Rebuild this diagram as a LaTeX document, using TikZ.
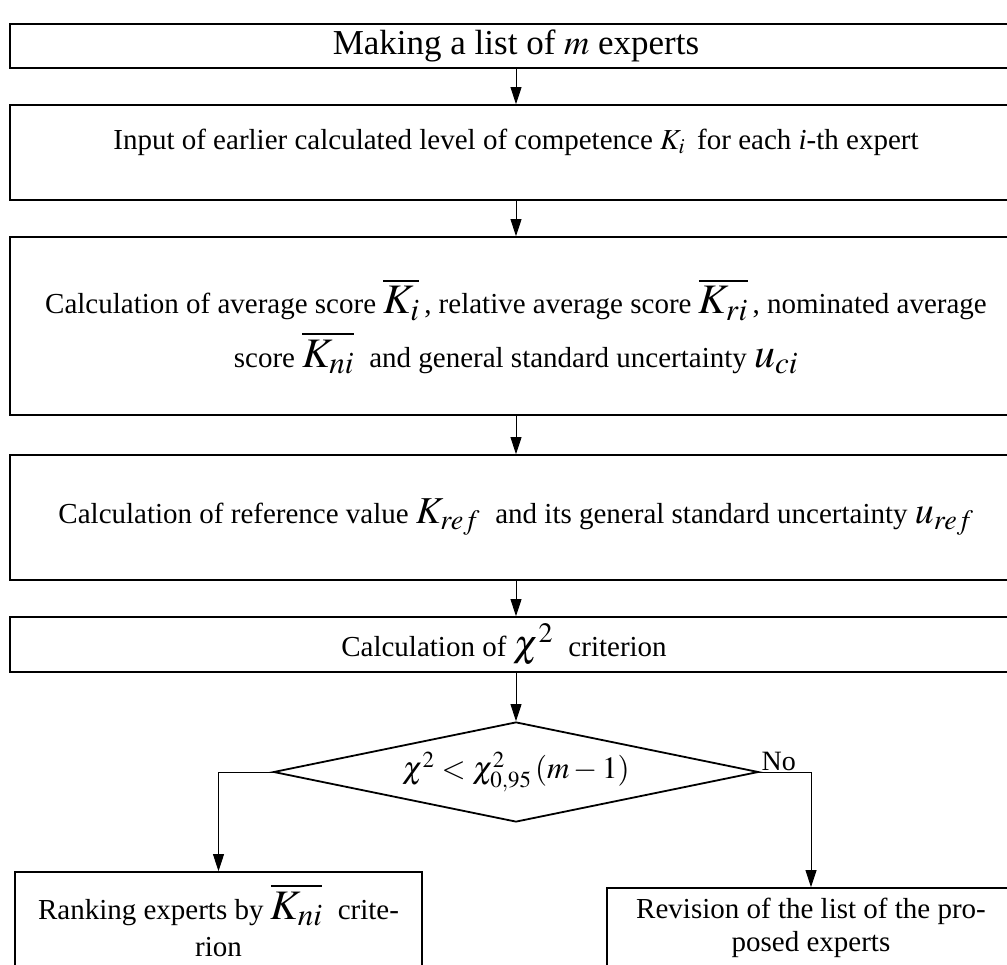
\documentclass[tikz,border=0pt]{standalone}
\usepackage{mathptmx}
\usepackage[no-math]{fontspec}
\setmainfont{Liberation Serif}
\usetikzlibrary{shapes.geometric,arrows.meta,positioning}
\newcommand\fs[1]{\fontsize{#1}{1.25\dimexpr#1pt\relax}\selectfont}
\newcommand\mathat[2]{{\fontsize{#1}{#1}\selectfont$#2$}}

\begin{document}
\begin{tikzpicture}[x=1pt, y=-1pt, >={Triangle[length=17pt,width=11pt]},
	stepbox/.style={draw, line width=1.8pt, inner sep=0pt, align=center, minimum width=1012pt, font=\fs{29}},
	testbox/.style={draw, line width=1.8pt, diamond, aspect=4.85, inner sep=0pt, minimum width=485pt, minimum height=100pt},
	flow/.style={->, line width=0.9pt}]
	\useasboundingbox (0,0) rectangle (1007,965);
	\clip (0,0) rectangle (1007,965);

	\node[stepbox, minimum height=44pt, font=\fs{35}] (list) at (516,46) {Making a list of $m$ experts};
	\node[stepbox, minimum height=95pt, text depth=27pt] (input) at (516,152.5) {Input of earlier calculated level of competence $K_i$\, for each \textit{i}-th expert};
	\node[stepbox, minimum height=178pt] (avg) at (516,326) {Calculation of average score \mathat{42}{\overline{K_i}}\,, relative average score \mathat{42}{\overline{K_{ri}}}\,, nominated average\\[10pt]
		score \mathat{42}{\overline{K_{ni}}}\; and general standard uncertainty \mathat{42}{u_{ci}}};
	\node[stepbox, minimum height=125pt] (ref) at (516,517.5) {Calculation of reference value \mathat{38}{K_{ref}}\; and its general standard uncertainty \mathat{38}{u_{ref}}};
	\node[stepbox, minimum height=55pt] (chi) at (516,644.5) {Calculation of \mathat{38}{\chi^2}\; criterion\hspace*{24pt}};
	\node[testbox] (test) at (516,772) {\mathat{31}{\chi^2<\chi^2_{0,95}\left(m-1\right)}};
	\node[anchor=south west, inner sep=0pt, xshift=2pt, yshift=1pt, font=\fs{28}] (no) at (test.east) {No};

	\node[stepbox, minimum width=407pt, minimum height=118pt, text depth=22pt] (rank) at (218.5,931) {Ranking experts by \mathat{42}{\overline{K_{ni}}}\; crite-\\[1pt]rion};
	\node[stepbox, minimum width=408pt, minimum height=80pt] (revise) at (811,928) {Revision of the list of the pro-\\[-3pt]posed experts};

	\draw[flow] (list) -- (input);
	\draw[flow] (input) -- (avg);
	\draw[flow] (avg) -- (ref);
	\draw[flow] (ref) -- (chi);
	\draw[flow] (chi) -- (test);
	\draw[flow] (test.west) -| (rank.north);
	\draw[flow] (test.east) -| (revise.north);
\end{tikzpicture}
\end{document}
